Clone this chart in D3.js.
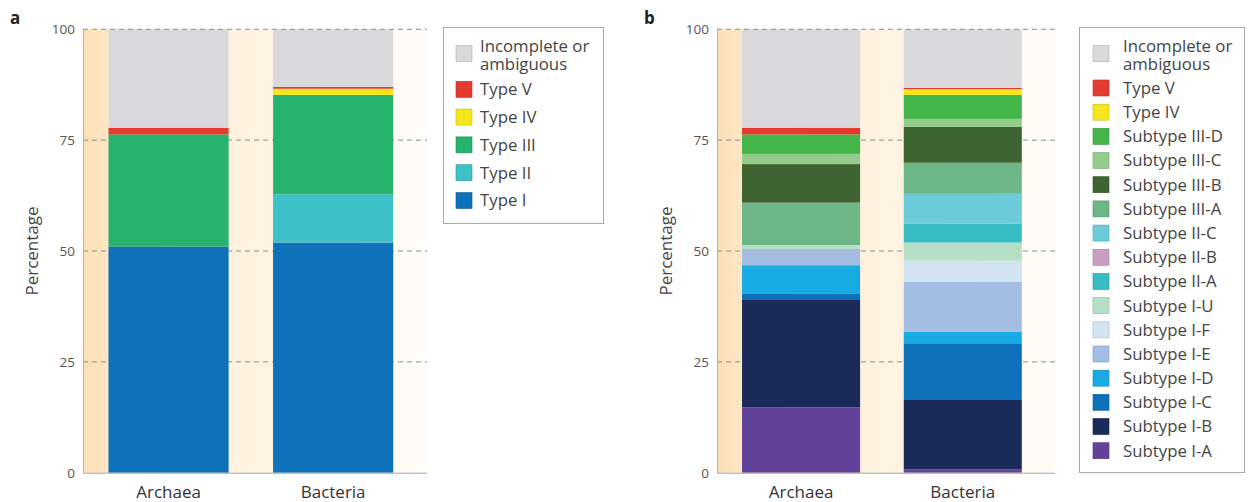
<!DOCTYPE html>
<html>
<head>
<meta charset="utf-8">
<script src="https://cdn.jsdelivr.net/npm/d3@7"></script>
<style>
  body { margin: 0; background: #fff; }
  svg { display: block; font-family: 'Open Sans', 'Noto Sans', sans-serif; }
  .tick text { fill: #555; font-size: 13.5px; }
  .axisLabel { fill: #444; font-size: 17px; }
  .catLabel { fill: #333; font-size: 17px; }
  .legend text { fill: #444; font-size: 16.8px; }
</style>
</head>
<body>
<svg id="chart" width="1251" height="502"></svg>
<script>
const categories = ['Archaea', 'Bacteria'];
const yTicks = [0, 25, 50, 75, 100];

// panel a, stacked bottom to top
const typeKeys = ['Type I', 'Type II', 'Type III', 'Type IV', 'Type V', 'Incomplete or ambiguous'];
const typeColors = ['#0d72b9', '#3ec0c8', '#27b36e', '#f5e51b', '#e53a2f', '#d9d9db'];
const typeArchaea = [51.0, 0, 25.3, 0, 1.5, 22.2];
const typeBacteria = [51.9, 10.9, 22.4, 1.4, 0.4, 13.0];

// panel b, stacked bottom to top
const subtypeKeys = ['Subtype I-A', 'Subtype I-B', 'Subtype I-C', 'Subtype I-D', 'Subtype I-E', 'Subtype I-F',
  'Subtype I-U', 'Subtype II-A', 'Subtype II-B', 'Subtype II-C', 'Subtype III-A', 'Subtype III-B',
  'Subtype III-C', 'Subtype III-D', 'Type IV', 'Type V', 'Incomplete or ambiguous'];
const subtypeColors = ['#62429a', '#1a2b5a', '#0d72b9', '#18aae2', '#a3bde3', '#d3e5f3',
  '#b5dfc6', '#36bcc2', '#c89ec0', '#6ccad9', '#6cb688', '#3d6431',
  '#93cc8b', '#43b549', '#f5e51b', '#e53a2f', '#d9d9db'];
const subtypeArchaea = [14.75, 24.2, 1.5, 6.35, 3.65, 0, 0.9, 0, 0, 0, 9.55, 8.7, 2.3, 4.4, 0, 1.5, 22.2];
const subtypeBacteria = [0.8, 15.6, 12.8, 2.6, 11.3, 4.7, 4.1, 4.3, 0, 6.7, 7.0, 8.1, 1.8, 5.4, 1.3, 0.3, 13.2];

const plotTop = 29.3, plotBottom = 472.7;
const svg = d3.select('#chart');
const defs = svg.append('defs');

const y = d3.scaleLinear().domain([0, 100]).range([plotBottom, plotTop]);

function drawPanel(opts) {
  const { id, letter, axisX, plotW, keys, colors, seriesA, seriesB, legend } = opts;

  const rows = categories.map((c, ci) => {
    const vals = ci === 0 ? seriesA : seriesB;
    const row = { cat: c };
    keys.forEach((k, i) => { row[k] = vals[i]; });
    return row;
  });
  const stacked = d3.stack().keys(keys)(rows);
  const color = d3.scaleOrdinal().domain(keys).range(colors);

  const x = d3.scaleBand()
    .domain(categories)
    .range([axisX, axisX + plotW])
    .paddingInner(0.27)
    .paddingOuter(0.18)
    .align(0.43);

  const g = svg.append('g').attr('class', 'panel-' + id);

  // background gradient
  const grad = defs.append('linearGradient')
    .attr('id', 'bg-' + id)
    .attr('x1', 0).attr('x2', 1).attr('y1', 0).attr('y2', 0);
  grad.append('stop').attr('offset', 0).attr('stop-color', '#fcdfb5');
  grad.append('stop').attr('offset', 0.1).attr('stop-color', '#fde9cb');
  grad.append('stop').attr('offset', 0.5).attr('stop-color', '#fff3e1');
  grad.append('stop').attr('offset', 1).attr('stop-color', '#fffdf9');

  g.append('rect')
    .attr('x', axisX)
    .attr('y', plotTop)
    .attr('width', plotW)
    .attr('height', plotBottom - plotTop)
    .attr('fill', 'url(#bg-' + id + ')');

  // dashed grid behind bars
  const grid = g.append('g').attr('class', 'grid');
  grid.selectAll('line')
    .data(yTicks.filter(t => t > 0 && t < 100))
    .enter()
    .append('line')
    .attr('x1', axisX)
    .attr('x2', axisX + plotW)
    .attr('y1', d => y(d))
    .attr('y2', d => y(d))
    .attr('stroke', '#8c8c8c')
    .attr('stroke-width', 1)
    .attr('stroke-dasharray', '5,4');

  // bars
  g.append('g')
    .selectAll('g')
    .data(stacked)
    .enter()
    .append('g')
    .attr('fill', d => color(d.key))
    .selectAll('rect')
    .data(d => d)
    .enter()
    .append('rect')
    .attr('x', d => x(d.data.cat))
    .attr('width', x.bandwidth())
    .attr('y', d => y(d[1]))
    .attr('height', d => y(d[0]) - y(d[1]));

  // top dashed line over bars
  g.append('line')
    .attr('x1', axisX)
    .attr('x2', axisX + plotW)
    .attr('y1', y(100))
    .attr('y2', y(100))
    .attr('stroke', '#8c8c8c')
    .attr('stroke-dasharray', '5,4');

  // axes
  const yAxis = d3.axisLeft(y).tickValues(yTicks).tickSize(0).tickPadding(8);
  const ya = g.append('g')
    .attr('class', 'y axis')
    .attr('transform', 'translate(' + axisX + ',0)')
    .call(yAxis);
  ya.select('.domain').attr('stroke', '#b9b2a6');
  ya.selectAll('.tick text').attr('font-family', "'Open Sans', sans-serif");

  g.append('line')
    .attr('x1', axisX)
    .attr('x2', axisX + plotW)
    .attr('y1', plotBottom + 0.5)
    .attr('y2', plotBottom + 0.5)
    .attr('stroke', '#aaa49a');

  g.selectAll('.catLabel')
    .data(categories)
    .enter()
    .append('text')
    .attr('class', 'catLabel')
    .attr('x', d => x(d) + x.bandwidth() / 2)
    .attr('y', 498)
    .attr('text-anchor', 'middle')
    .text(d => d);

  g.append('text')
    .attr('class', 'axisLabel')
    .attr('transform', 'rotate(-90)')
    .attr('x', -(plotTop + plotBottom) / 2)
    .attr('y', axisX - 45)
    .attr('text-anchor', 'middle')
    .text('Percentage');

  g.append('text')
    .attr('x', axisX - 73)
    .attr('y', 24)
    .attr('font-weight', 'bold')
    .attr('font-size', 17)
    .attr('fill', '#222')
    .text(letter);

  // legend
  const lg = g.append('g').attr('class', 'legend');
  lg.append('rect')
    .attr('x', legend.x + 0.5)
    .attr('y', legend.y + 0.5)
    .attr('width', legend.w)
    .attr('height', legend.h)
    .attr('fill', '#fff')
    .attr('stroke', '#a8a8a8');

  const items = keys.slice().reverse();
  items.forEach((k, i) => {
    const cy = i === 0 ? legend.firstY : legend.startY + (i - 1) * legend.step;
    lg.append('rect')
      .attr('x', legend.swX)
      .attr('y', cy - 8)
      .attr('width', 16)
      .attr('height', 16)
      .attr('fill', color(k))
      .attr('stroke', d3.color(color(k)).darker(0.6))
      .attr('stroke-width', 0.6);
    if (k === 'Incomplete or ambiguous') {
      // two lines in one text element
      const t = lg.append('text').attr('y', cy - 2);
      t.append('tspan').attr('x', legend.textX).text('Incomplete or');
      t.append('tspan').attr('x', legend.textX).attr('dy', 18.5).text('ambiguous');
    } else {
      lg.append('text')
        .attr('x', legend.textX)
        .attr('y', cy)
        .attr('dy', '0.35em')
        .text(k);
    }
  });
}

drawPanel({
  id: 'a', letter: 'a', axisX: 83, plotW: 344,
  keys: typeKeys, colors: typeColors,
  seriesA: typeArchaea, seriesB: typeBacteria,
  legend: { x: 443, y: 27, w: 160, h: 196, swX: 456, textX: 480, firstY: 53.5, startY: 89.3, step: 27.8 }
});

drawPanel({
  id: 'b', letter: 'b', axisX: 717, plotW: 338,
  keys: subtypeKeys, colors: subtypeColors,
  seriesA: subtypeArchaea, seriesB: subtypeBacteria,
  legend: { x: 1079, y: 27, w: 165, h: 445, swX: 1093, textX: 1123, firstY: 53.5, startY: 88, step: 24.18 }
});
</script>
</body>
</html>
